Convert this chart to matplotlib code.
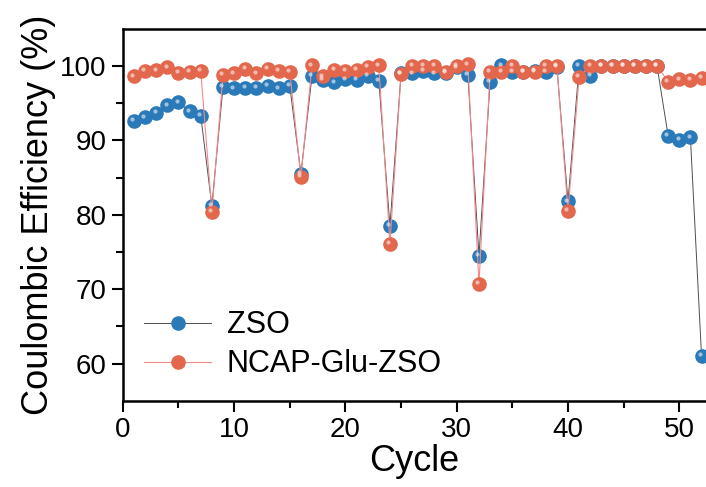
import matplotlib.pyplot as plt
from matplotlib.transforms import ScaledTranslation

plt.rcParams['font.family'] = ['Liberation Sans', 'DejaVu Sans']

# Coulombic efficiency per cycle
cycles = list(range(1, 53))
zso = [92.6, 93.1, 93.7, 94.7, 95.1, 93.9, 93.3, 81.2,
       97.2, 97.0, 97.1, 97.1, 97.3, 97.0, 97.3, 85.5,
       98.7, 98.1, 97.8, 98.2, 98.1, 98.7, 98.0, 78.5,
       99.0, 99.0, 99.3, 99.0, 99.1, 99.8, 98.8, 74.5,
       97.9, 100.1, 99.2, 99.2, 99.3, 99.2, 99.9, 81.8,
       100.0, 98.7, 100.0, 100.0, 100.0, 100.0, 100.0, 100.0,
       90.6, 90.1, 90.4, 61.0]
ncap = [98.6, 99.3, 99.4, 99.8, 99.1, 99.2, 99.3, 80.4,
        98.8, 99.0, 99.6, 99.0, 99.6, 99.3, 99.2, 85.1,
        100.1, 98.6, 99.5, 99.3, 99.5, 99.9, 100.1, 76.1,
        98.9, 100.0, 100.0, 100.0, 99.2, 100.0, 100.2, 70.7,
        99.2, 99.2, 100.0, 99.2, 99.2, 100.0, 100.0, 80.5,
        98.5, 100.0, 100.0, 100.0, 100.0, 100.0, 100.0, 100.0,
        97.9, 98.2, 98.1, 98.4]

blue = '#2a7ab9'
orange = '#e2674d'

fig = plt.figure(figsize=(7.06, 4.87), dpi=100)
ax = fig.add_axes([0.174, 0.177, 0.826, 0.764])

ax.plot(cycles, zso, color='#505050', lw=0.7, marker='o', ms=9.5,
        mfc=blue, mec=blue, label='ZSO')
ax.plot(cycles, ncap, color='#f28a8a', lw=0.8, marker='o', ms=9.5,
        mfc=orange, mec=orange, label='NCAP-Glu-ZSO')

# small highlight to mimic the shaded spheres
shine = ax.transData + ScaledTranslation(-1.2 / 72, 1.2 / 72, fig.dpi_scale_trans)
ax.plot(cycles, zso, ls='none', marker='o', ms=3, color='white', alpha=0.55,
        mec='none', transform=shine)
ax.plot(cycles, ncap, ls='none', marker='o', ms=3, color='white', alpha=0.55,
        mec='none', transform=shine)

ax.set_xlim(0, 52.4)
ax.set_ylim(55, 105)
ax.set_xticks([0, 10, 20, 30, 40, 50])
ax.set_xticks([5, 15, 25, 35, 45], minor=True)
ax.set_yticks([60, 70, 80, 90, 100])
ax.set_yticks([65, 75, 85, 95], minor=True)
ax.tick_params(which='major', direction='out', length=8, width=1.5, labelsize=20)
ax.tick_params(which='minor', direction='out', length=5, width=1.5)
ax.tick_params(top=False, right=False)

for s in ['left', 'bottom', 'top']:
    ax.spines[s].set_linewidth(1.8)
ax.spines['right'].set_visible(False)

ax.set_xlabel('Cycle', fontsize=26, labelpad=1)
ax.set_ylabel('Coulombic Efficiency (%)', fontsize=26, labelpad=3)

ax.legend(loc='lower left', frameon=False, fontsize=22, handlelength=2.2,
          handletextpad=0.5, borderaxespad=0.3, labelspacing=0.3,
          bbox_to_anchor=(0.0, 0.0))

fig.savefig('out.png', dpi=100)
